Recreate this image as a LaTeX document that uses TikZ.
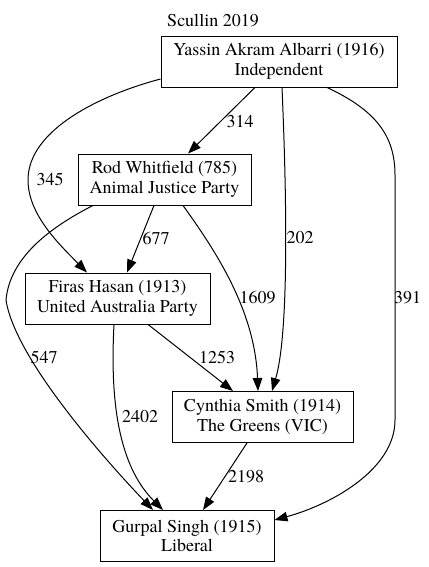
\documentclass[tikz,border=0pt]{standalone}
\usepackage{fontspec}
\setmainfont{TeX Gyre Termes}
\usetikzlibrary{arrows.meta}
\begin{document}
\begin{tikzpicture}[x=1pt,y=-1pt,
  font=\fontsize{18}{19.5}\selectfont,
  box/.style={draw, line width=0.9pt, rectangle, align=center, inner sep=0pt, minimum height=51pt},
  edge/.style={draw, line width=1pt, -{Triangle[length=13pt,width=9.5pt]}},
  lbl/.style={inner sep=0pt}]
\useasboundingbox (0,0) rectangle (428,567);
% title
\node[lbl] (title) at (213,21) {Scullin 2019};
% nodes
\node[box, minimum width=236pt] (yassin) at (279,61.5) {Yassin Akram Albarri (1916)\\Independent};
\node[box, minimum width=173pt] (rod) at (164.5,179.5) {Rod Whitfield (785)\\Animal Justice Party};
\node[box, minimum width=185pt] (firas) at (117.5,298.5) {Firas Hasan (1913)\\United Australia Party};
\node[box, minimum width=181pt] (cynthia) at (262.5,417) {Cynthia Smith (1914)\\The Greens (VIC)};
\node[box, minimum width=174pt] (gurpal) at (187,536) {Gurpal Singh (1915)\\Liberal};
% edges
\draw[edge] ([xshift=-24pt]yassin.south) -- ([xshift=23.5pt]rod.north);
\draw[edge] ([yshift=-17.5pt]yassin.west) .. controls (100,95) and (28,130) .. (28,180)
  .. controls (28,215) and (60,245) .. ([xshift=-30.5pt]firas.north);
\draw[edge] ([xshift=3pt]yassin.south) .. controls (286,180) and (290,330) .. ([xshift=9.5pt]cynthia.north);
\draw[edge] ([xshift=48pt]yassin.south) .. controls (375,110) and (395,135) .. (395,175)
  -- (395,420) .. controls (395,470) and (330,505) .. ([yshift=16pt]gurpal.east);
\draw[edge] ([xshift=-10.5pt]rod.south) -- ([xshift=9.5pt]firas.north);
\draw[edge] ([xshift=18.5pt]rod.south) .. controls (215,250) and (255,310) .. ([xshift=-4.5pt]cynthia.north);
\draw[edge] ([xshift=-71.5pt]rod.south) .. controls (55,225) and (10,255) .. (6,300)
  .. controls (15,360) and (110,465) .. ([xshift=-34pt]gurpal.north);
\draw[edge] ([xshift=30.5pt]firas.south) -- ([xshift=-29.5pt]cynthia.north);
\draw[edge] ([xshift=-3.5pt]firas.south) .. controls (110,400) and (118,465) .. ([xshift=-24pt]gurpal.north);
\draw[edge] ([xshift=-15.5pt]cynthia.south) -- ([xshift=16pt]gurpal.north);
% labels
\node[lbl] (l314) at (240,122) {314};
\node[lbl] (l345) at (50,179) {345};
\node[lbl] (l202) at (300,238) {202};
\node[lbl] (l391) at (407.5,298) {391};
\node[lbl] (l677) at (156,238) {677};
\node[lbl] (l1609) at (257.5,298) {1609};
\node[lbl] (l547) at (44,357) {547};
\node[lbl] (l1253) at (217,357) {1253};
\node[lbl] (l2402) at (140,417) {2402};
\node[lbl] (l2198) at (246,477) {2198};
\end{tikzpicture}
\end{document}
